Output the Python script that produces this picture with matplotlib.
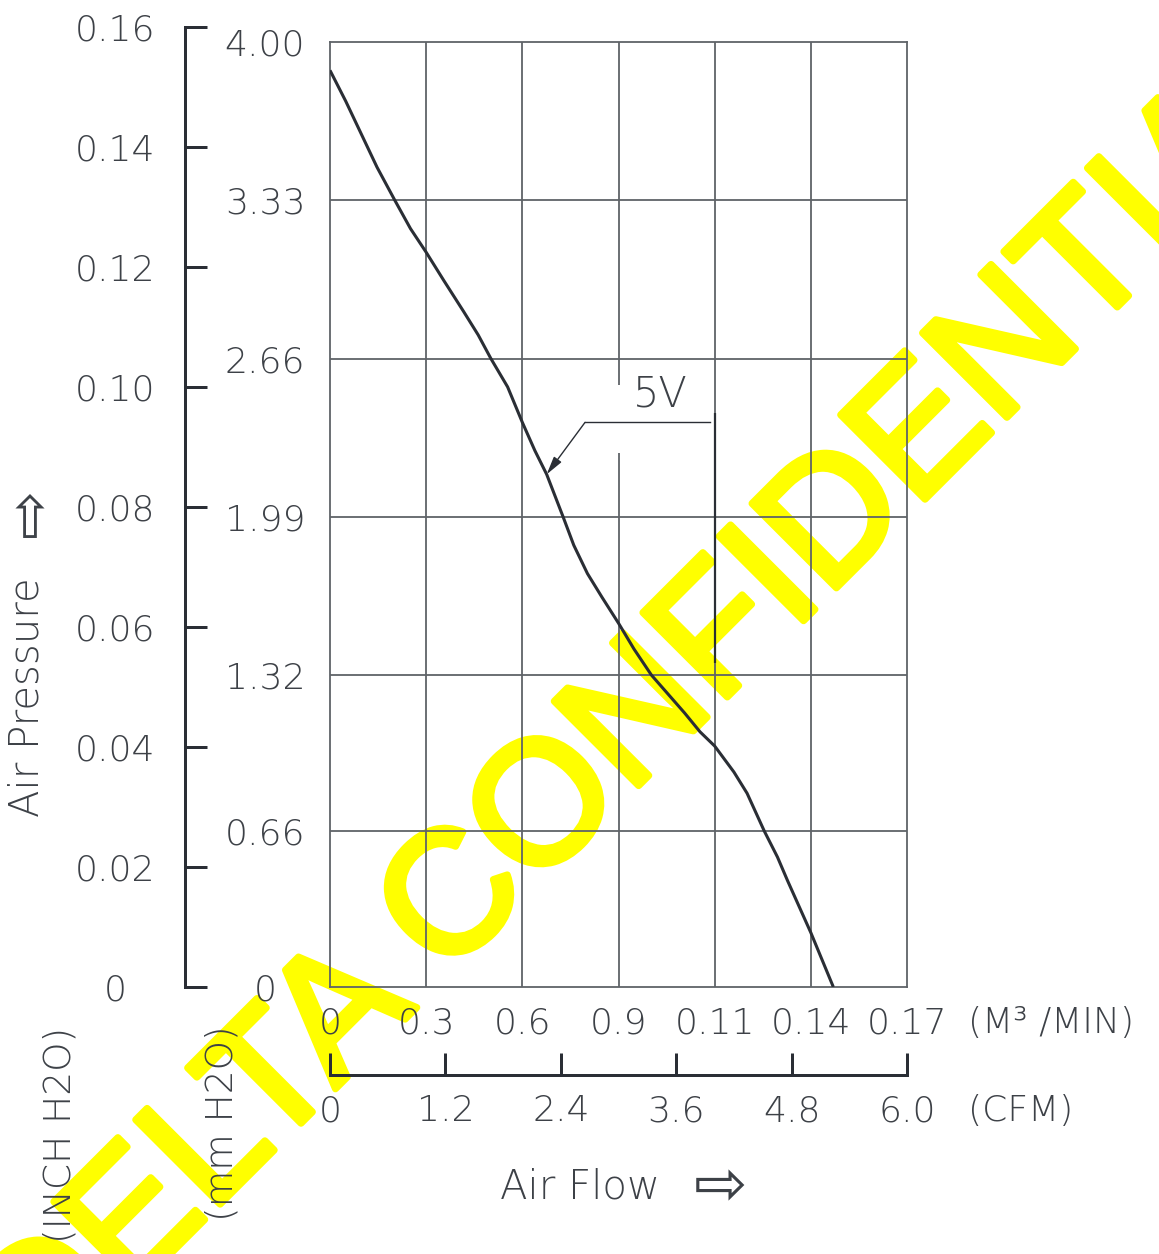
import matplotlib
matplotlib.use("Agg")
import matplotlib.pyplot as plt
import matplotlib.patheffects as pe
import numpy as np

# ---------------- data ----------------
flow_cfm = [0, 0.163, 0.326, 0.489, 0.674, 0.837, 1.0, 1.184, 1.388, 1.541, 1.673,
            1.847, 2.0, 2.131, 2.253, 2.424, 2.535, 2.677, 2.828, 3.0, 3.162,
            3.343, 3.515, 3.687, 3.848, 4.0, 4.2, 4.337, 4.516, 4.653, 4.758,
            5.0, 5.234]
pressure_mm = [3.88, 3.75, 3.61, 3.47, 3.33, 3.21, 3.11, 2.99, 2.86, 2.76, 2.66,
               2.54, 2.39, 2.27, 2.17, 1.99, 1.87, 1.75, 1.65, 1.54, 1.43,
               1.32, 1.24, 1.16, 1.08, 1.02, 0.91, 0.82, 0.66, 0.55, 0.45,
               0.23, 0.0]

mm_ticks = [0, 0.66, 1.32, 1.99, 2.66, 3.33, 4.00]
mm_labels = ["0", "0.66", "1.32", "1.99", "2.66", "3.33", "4.00"]
inch_ticks = [0, 0.02, 0.04, 0.06, 0.08, 0.10, 0.12, 0.14, 0.16]
inch_labels = ["0", "0.02", "0.04", "0.06", "0.08", "0.10", "0.12", "0.14", "0.16"]
grid_cfm = [0, 1, 2, 3, 4, 5, 6]
m3min_labels = ["0", "0.3", "0.6", "0.9", "0.11", "0.14", "0.17"]
cfm_ticks = [0, 1.2, 2.4, 3.6, 4.8, 6.0]
cfm_labels = ["0", "1.2", "2.4", "3.6", "4.8", "6.0"]
curve_label = "5V"
label_idx = 14  # point of the curve that the 5V arrow points to

# ---------------- style ----------------
W, H = 1159, 1254
DPI = 100
FONT = ["DejaVu Sans"]
FW = 200
TXT = "#3d4147"
DARK = "#2a2e35"
GRID = "#5f6368"
TS = 26

def px(p):
    return p * 72.0 / DPI

def fx(x):
    return x / W

def fy(y):
    return 1 - y / H

fig = plt.figure(figsize=(W / DPI, H / DPI), dpi=DPI)
fig.patch.set_facecolor("white")

# watermark (beneath everything)
fig.text(fx(660), fy(700), "DELTA CONFIDENTIAL", rotation=45, rotation_mode="anchor",
         ha="center", va="center", fontsize=125, color="#FFFF00",
         family="Liberation Sans", weight="normal", zorder=-5,
         path_effects=[pe.withStroke(linewidth=5, foreground="#FFFF00")])

# ---------------- main axes ----------------
ax = fig.add_axes([fx(330), fy(987), (907 - 330) / W, (987 - 42) / H])
ax.set_facecolor("none")
ax.set_xlim(0, 6)
ax.set_ylim(0, 4)
for s in ax.spines.values():
    s.set_color(GRID)
    s.set_linewidth(1.3)

for v in mm_ticks[1:-1]:
    ax.axhline(v, color=GRID, lw=1.3, zorder=1)
for g in grid_cfm[1:-1]:
    if g == 3:
        ax.vlines(g, 0, 2.26, color=GRID, lw=1.3, zorder=1)
        ax.vlines(g, 2.55, 4, color=GRID, lw=1.3, zorder=1)
    else:
        ax.vlines(g, 0, 4, color=GRID, lw=1.3, zorder=1)
ax.vlines(4, 1.37, 2.43, color=DARK, lw=1.6, zorder=1.5)

ax.plot(flow_cfm, pressure_mm, color=DARK, lw=2.2, zorder=3,
        solid_capstyle="butt", solid_joinstyle="round")

# 5V annotation
ax.annotate("", xy=(flow_cfm[label_idx], pressure_mm[label_idx]), xytext=(2.652, 2.39),
            arrowprops=dict(arrowstyle="-|>,head_length=1.1,head_width=0.28",
                            color=DARK, lw=1.0, shrinkA=0, shrinkB=0), zorder=4)
ax.plot([2.652, 3.95], [2.39, 2.39], color=DARK, lw=1.0, zorder=4)
ax.text(3.435, 2.51, curve_label, ha="center", va="center", fontsize=30,
        family=FONT, weight=FW, color=TXT, zorder=4)

ax.set_yticks(mm_ticks)
ax.set_yticklabels(mm_labels)
ax.set_xticks(grid_cfm)
ax.set_xticklabels(m3min_labels)
ax.tick_params(axis="y", length=0, pad=px(65), labelsize=TS, labelcolor=TXT)
ax.tick_params(axis="x", length=0, pad=px(36), labelsize=TS, labelcolor=TXT)
for t in ax.get_yticklabels():
    t.set_ha("center"); t.set_family(FONT); t.set_weight(FW)
for t in ax.get_xticklabels():
    t.set_va("center"); t.set_family(FONT); t.set_weight(FW)

# ---------------- inch H2O axis ----------------
axi = fig.add_axes([fx(185), fy(987), 0.01, (987 - 27) / H])
axi.set_facecolor("none")
axi.set_ylim(0, 0.16)
for k in ["top", "right", "bottom"]:
    axi.spines[k].set_visible(False)
axi.spines["left"].set_color(DARK)
axi.spines["left"].set_linewidth(px(3))
axi.spines["left"].set_capstyle("projecting")
axi.set_xticks([])
axi.set_yticks(inch_ticks)
axi.set_yticklabels(inch_labels)
axi.tick_params(axis="y", direction="in", length=px(22), width=px(3), color=DARK,
                pad=px(70), labelsize=TS, labelcolor=TXT)
for t in axi.get_yticklabels():
    t.set_ha("center"); t.set_family(FONT); t.set_weight(FW)

# ---------------- CFM axis ----------------
axc = fig.add_axes([fx(330), fy(1075), (907 - 330) / W, 0.005])
axc.set_facecolor("none")
axc.set_xlim(0, 6)
for k in ["top", "right", "left"]:
    axc.spines[k].set_visible(False)
axc.spines["bottom"].set_color(DARK)
axc.spines["bottom"].set_linewidth(px(3))
axc.set_yticks([])
axc.set_xticks(cfm_ticks)
axc.set_xticklabels(cfm_labels)
axc.tick_params(axis="x", direction="in", length=px(22), width=px(3), color=DARK,
                pad=px(36), labelsize=TS, labelcolor=TXT)
for t in axc.get_xticklabels():
    t.set_va("center"); t.set_family(FONT); t.set_weight(FW)

# ---------------- unit / axis titles ----------------
fig.text(fx(968), fy(1023), "(M³ /MIN)", ha="left", va="center", fontsize=TS,
         family=FONT, weight=FW, color=TXT)
fig.text(fx(968), fy(1111), "(CFM)", ha="left", va="center", fontsize=TS,
         family=FONT, weight=FW, color=TXT)
fig.text(fx(580), fy(1187), "Air Flow", ha="center", va="center", fontsize=29,
         family=FONT, weight=FW, color=TXT)
fig.text(fx(720), fy(1187), "⇨", ha="center", va="center", fontsize=46,
         family="DejaVu Sans", weight="normal", color=TXT)
fig.text(fx(27), fy(697), "Air Pressure", ha="center", va="center", fontsize=29,
         rotation=90, family=FONT, weight=FW, color=TXT)
fig.text(fx(31), fy(513), "⇨", ha="center", va="center", fontsize=42,
         rotation=90, family="DejaVu Sans", weight="normal", color=TXT)
fig.text(fx(60), fy(1135), "(INCH H2O)", ha="center", va="center", fontsize=27,
         rotation=90, family=FONT, weight=FW, color=TXT)
fig.text(fx(222), fy(1123), "(mm H2O)", ha="center", va="center", fontsize=27,
         rotation=90, family=FONT, weight=FW, color=TXT)

fig.savefig("out.png", dpi=DPI, facecolor="white")
